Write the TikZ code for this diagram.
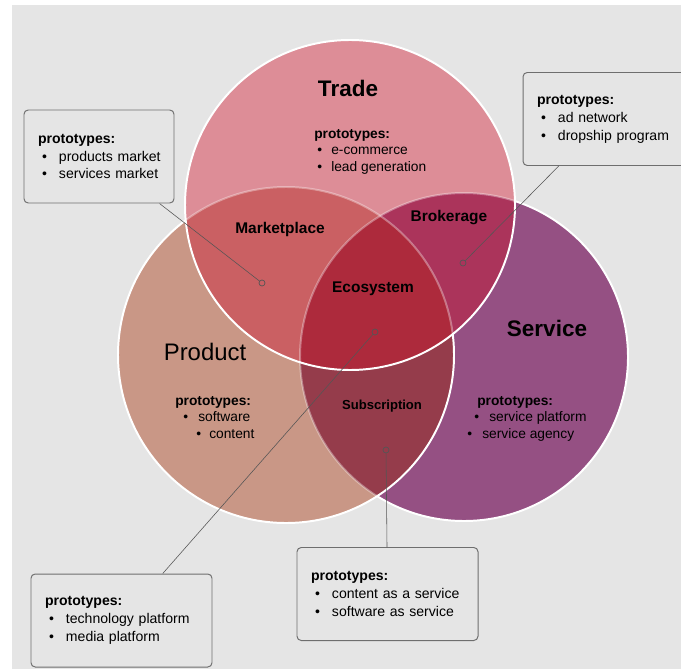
\documentclass[tikz,border=0pt]{standalone}
\usepackage{fontspec}
\setmainfont{Liberation Sans}
\usepackage{tikz}

\newlength{\px}
\setlength{\px}{0.025cm}
% bullet line: bullet offset, gap to text, text
\newcommand{\itm}[3]{\hspace*{#1\px}\makebox[#2\px][l]{\textbullet}\mbox{#3}}

\definecolor{bggray}{HTML}{E5E5E5}
\definecolor{tradecol}{HTML}{DD8D97}
\definecolor{prodcol}{HTML}{C99786}
\definecolor{servcol}{HTML}{955083}
\definecolor{mktcol}{HTML}{CA6063}
\definecolor{brkcol}{HTML}{AB345B}
\definecolor{subcol}{HTML}{953C4B}
\definecolor{ecocol}{HTML}{AD2A3C}
\definecolor{boxgray}{HTML}{6E6E6E}
\definecolor{leadgray}{HTML}{555555}

\def\tradec{(350,205) circle (165)}
\def\prodc{(286,355) circle (168)}
\def\servc{(464,357) circle (164)}

\begin{document}
\begin{tikzpicture}[x=0.025cm, y=-0.025cm,
    every node/.style={inner sep=0pt},
    title/.style={anchor=base, font=\fontsize{16}{19}\selectfont\bfseries},
    region/.style={anchor=base, font=\fontsize{11}{13}\selectfont\bfseries},
    inner/.style={anchor=north west, align=left, font=\fontsize{9.8}{11.7}\selectfont},
    protobox/.style={draw=boxgray, line width=0.7pt, rounded corners=3pt, align=left,
        text width=#1, inner xsep=14\px, minimum height=93\px, font=\fontsize{10}{12.75}\selectfont},
    dot/.style={circle, draw=leadgray, line width=0.5pt, minimum size=6\px},
    lead/.style={draw=leadgray, line width=0.4pt},
    rim/.style={draw=white, line width=1.4pt},
    faintrim/.style={draw=white, draw opacity=0.35, line width=1.4pt}]

    \useasboundingbox (0,0) rectangle (681,669);
    \fill[bggray] (12,5) rectangle (681,669);

    % Service and Product
    \fill[servcol] \servc;
    \draw[rim] \servc;
    \fill[prodcol] \prodc;
    \begin{scope}
        \clip \prodc;
        \fill[subcol] \servc;
        \draw[faintrim] \servc;
    \end{scope}
    \draw[rim] \prodc;

    % Trade on top
    \fill[tradecol] \tradec;
    \begin{scope}
        \clip \tradec;
        \fill[mktcol] \prodc;
        \fill[brkcol] \servc;
        \begin{scope}
            \clip \prodc;
            \fill[ecocol] \servc;
        \end{scope}
        \draw[faintrim] \prodc;
        \draw[faintrim] \servc;
    \end{scope}
    \draw[rim] \tradec;

    % Titles
    \node[title] (tradeT) at (348,97) {Trade};
    \node[title, font=\fontsize{17}{20}\selectfont] (prodT) at (205,360) {Product};
    \node[title] (servT) at (547,336) {Service};

    % Overlaps
    \node[region] (mkt) at (280,233) {Marketplace};
    \node[region] (brk) at (449,221) {Brokerage};
    \node[region] (eco) at (373,292) {Ecosystem};
    \node[region, font=\fontsize{9.3}{11}\selectfont\bfseries] (sub) at (382,409) {Subscription};

    % Prototypes in circles
    \node[inner] (tradeP) at (314,129) {\textbf{prototypes:}\\ \itm{3}{14}{e-commerce}\\ \itm{3}{14}{lead generation}};
    \node[inner] (prodP) at (175,396) {\textbf{prototypes:}\\ \itm{8}{15}{software}\\ \itm{21}{13}{content}};
    \node[inner] (servP) at (467,396) {\hspace*{10\px}\textbf{prototypes:}\\ \itm{7}{15}{service platform}\\ \itm{0}{15}{service agency}};

    % Callout boxes
    \node[protobox=122\px] (mktbox) at (99,156.5) {\textbf{prototypes:}\\ \itm{4}{17}{products market}\\ \itm{4}{17}{services market}};
    \node[protobox=136\px] (brkbox) at (605,119) {\textbf{prototypes:}\\ \itm{4}{17}{ad network}\\ \itm{4}{17}{dropship program}};
    \node[protobox=153\px] (ecobox) at (121.5,620.5) {\textbf{prototypes:}\\ \itm{4}{17}{technology platform}\\ \itm{4}{17}{media platform}};
    \node[protobox=153\px] (subbox) at (387.5,594) {\textbf{prototypes:}\\ \itm{4}{17}{content as a service}\\ \itm{4}{17}{software as service}};

    % Pointers
    \node[dot] (mktdot) at (262,283) {};
    \node[dot] (brkdot) at (463,263) {};
    \node[dot] (ecodot) at (375,332) {};
    \node[dot] (subdot) at (386,450) {};
    \draw[lead] (mktdot) -- (mktbox);
    \draw[lead] (brkdot) -- (brkbox);
    \draw[lead] (ecodot) -- (ecobox);
    \draw[lead] (subdot) -- (subbox);
\end{tikzpicture}
\end{document}
